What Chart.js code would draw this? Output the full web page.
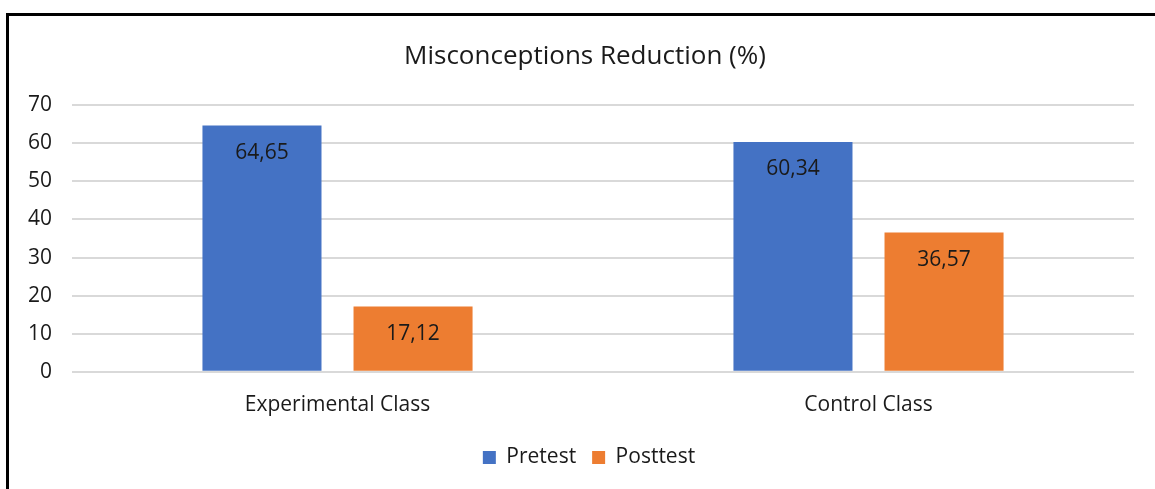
<!DOCTYPE html>
<html>
<head>
<meta charset="utf-8">
<script src="https://cdn.jsdelivr.net/npm/chart.js@4"></script>
<style>
  html, body { margin: 0; padding: 0; background: #fff; overflow: hidden; }
  #frame { position: absolute; left: 6px; top: 13px; width: 1200px; height: 600px; border: 3px solid #000; }
  #wrap { position: absolute; left: 0; top: 0; width: 1155px; height: 489px; }
</style>
</head>
<body>
<div id="frame"></div>
<div id="wrap"><canvas id="myChartBar"></canvas></div>
<script>
// Datos del grafico
var categories = ["Experimental Class", "Control Class"];
var pretest = [64.65, 60.34];
var posttest = [17.12, 36.57];
var yTicks = [0, 10, 20, 30, 40, 50, 60, 70];

var fontName = "'Open Sans', sans-serif";

// Etiquetas dentro de la barra, arriba
var labelsPlugin = {
  id: "barLabels",
  afterDatasetsDraw: function(chart) {
    var ctx = chart.ctx;
    ctx.save();
    ctx.font = "21px " + fontName;
    ctx.fillStyle = "#1a1a1a";
    ctx.textAlign = "center";
    ctx.textBaseline = "middle";
    chart.data.datasets.forEach(function(ds, i) {
      chart.getDatasetMeta(i).data.forEach(function(bar, j) {
        var txt = ds.data[j].toFixed(2).replace(".", ",");
        ctx.fillText(txt, bar.x, bar.y + 27);
      });
    });
    ctx.restore();
  }
};

// Correr un poco el titulo y la leyenda hacia la derecha
var shiftPlugin = {
  id: "shiftBoxes",
  afterLayout: function(chart) {
    if (chart.titleBlock) chart.titleBlock.left += 28;
    if (chart.legend) chart.legend.left += 36;
  }
};

var barChartCanva = document.getElementById("myChartBar");

var barChart = new Chart(barChartCanva, {
  type: "bar",
  data: {
    labels: categories,
    datasets: [{
      label: "Pretest",
      data: pretest,
      backgroundColor: "#4472C4",
      categoryPercentage: 0.569,
      barPercentage: 0.788
    }, {
      label: "Posttest",
      data: posttest,
      backgroundColor: "#ED7D31",
      categoryPercentage: 0.569,
      barPercentage: 0.788
    }]
  },
  options: {
    responsive: true,
    maintainAspectRatio: false,
    animation: false,
    layout: { padding: { left: 8, right: 21, top: 14, bottom: 11 } },
    plugins: {
      title: {
        display: true,
        text: "Misconceptions Reduction (%)",
        color: "#1a1a1a",
        font: { family: fontName, size: 26, weight: "normal" },
        padding: { top: 27, bottom: 33 }
      },
      legend: {
        position: "bottom",
        labels: {
          color: "#1a1a1a",
          font: { family: fontName, size: 21 },
          boxWidth: 13,
          boxHeight: 13,
          padding: 16
        }
      },
      tooltip: { enabled: false }
    },
    scales: {
      x: {
        grid: { display: false },
        border: { display: false },
        ticks: { color: "#1a1a1a", font: { family: fontName, size: 21 }, padding: 13 }
      },
      y: {
        min: 0,
        max: 70,
        afterBuildTicks: function(axis) {
          axis.ticks = yTicks.map(function(v) { return { value: v }; });
        },
        grid: { color: "#D9D9D9", lineWidth: 2, drawTicks: false },
        border: { display: false },
        ticks: { color: "#1a1a1a", font: { family: fontName, size: 21 }, padding: 20 }
      }
    }
  },
  plugins: [labelsPlugin, shiftPlugin]
});
</script>
</body>
</html>
